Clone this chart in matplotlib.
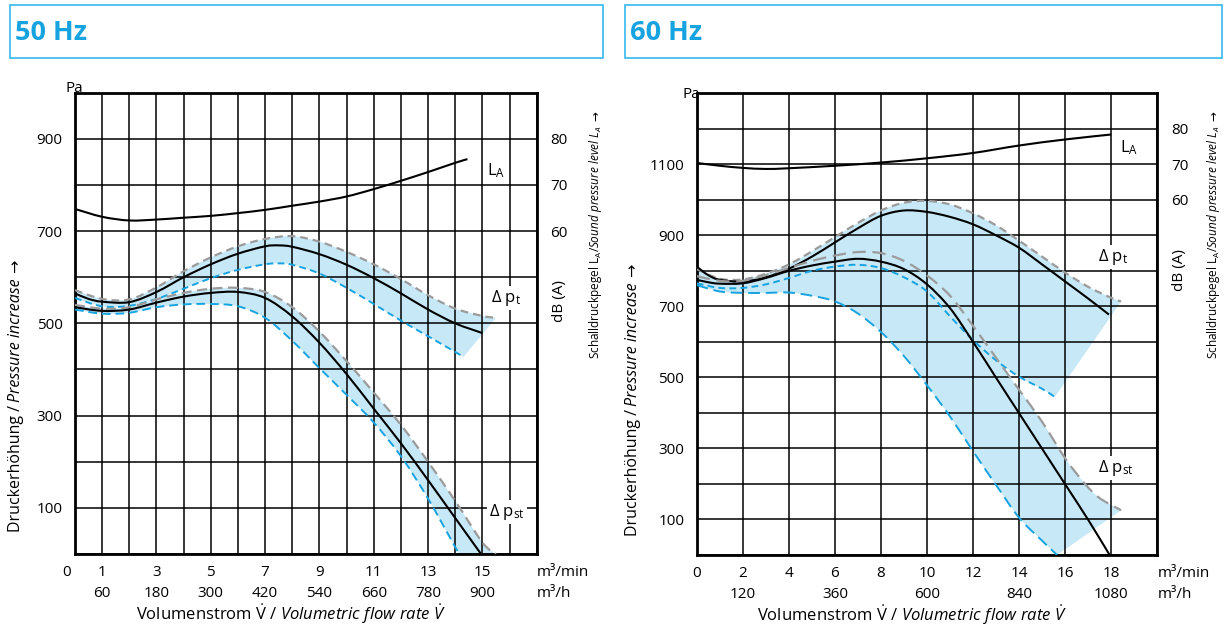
import numpy as np
import matplotlib.pyplot as plt
from matplotlib.path import Path
from matplotlib.patches import PathPatch, Rectangle

plt.rcParams['font.family'] = ['Open Sans', 'DejaVu Sans']
plt.rcParams['mathtext.fontset'] = 'custom'
plt.rcParams['mathtext.rm'] = 'Open Sans'
plt.rcParams['mathtext.it'] = 'Open Sans:italic'
plt.rcParams['mathtext.bf'] = 'Open Sans:bold'

# ---------------- 50 Hz ----------------
x50_la = [0, 1, 2, 3, 4, 5, 6, 7, 8, 9, 10, 11, 12, 13, 14, 14.45]
la50 = [64.8, 63.1, 62.3, 62.5, 62.9, 63.3, 63.9, 64.6, 65.5, 66.4, 67.5, 69.1, 70.9, 72.8, 74.8, 75.6]

x50_pt = [0, 0.5, 1, 2, 3, 4, 5, 6, 7, 7.5, 8, 9, 10, 11, 12, 13, 14, 15]
pt50 = [565, 553, 547, 546, 568, 600, 628, 651, 667, 669, 666, 650, 627, 598, 565, 530, 500, 479]
x50_pt_hi = [0, 1, 2, 3, 4, 5, 6, 7, 8, 9, 10, 11, 12, 13, 14, 15, 15.5]
pt50_hi = [572, 553, 552, 578, 613, 643, 667, 683, 689, 677, 655, 628, 596, 561, 532, 516, 512]
x50_pt_lo = [0, 1, 2, 3, 4, 5, 6, 7, 7.5, 8, 9, 10, 11, 12, 13, 14, 14.3]
pt50_lo = [555, 537, 538, 553, 575, 598, 616, 628, 630, 627, 608, 577, 542, 506, 472, 438, 427]

x50_pst = [0, 1, 2, 3, 4, 5, 6, 7, 8, 9, 10, 11, 12, 13, 14, 14.95]
pst50 = [535, 527, 530, 545, 558, 566, 568, 555, 515, 458, 390, 315, 240, 160, 78, 0]
x50_pst_hi = [0, 1, 2, 3, 4, 5, 6, 7, 8, 9, 10, 11, 12, 13, 14, 15, 15.5]
pst50_hi = [540, 532, 535, 552, 566, 575, 577, 568, 535, 482, 418, 350, 280, 200, 115, 25, 0]
x50_pst_lo = [0, 1, 2, 3, 4, 5, 6, 7, 8, 9, 10, 11, 12, 13, 14, 14.15]
pst50_lo = [530, 521, 523, 535, 541, 542, 537, 512, 462, 403, 345, 285, 212, 120, 15, 0]

# ---------------- 60 Hz ----------------
x60_la = [0, 1, 2, 3, 4, 6, 8, 10, 12, 14, 16, 18]
la60 = [70.4, 69.6, 69.0, 68.7, 68.9, 69.6, 70.5, 71.7, 73.2, 75.3, 77.0, 78.4]

x60_pt = [0, 0.5, 1, 2, 3, 4, 5, 6, 7, 8, 9, 10, 11, 12, 13, 14, 15, 16, 17, 17.9]
pt60 = [812, 788, 775, 770, 782, 806, 840, 880, 920, 955, 970, 966, 952, 931, 900, 865, 818, 770, 722, 677]
x60_pt_hi = [0, 1, 2, 3, 4, 5, 6, 7, 8, 9, 10, 11, 12, 13, 14, 15, 16, 17, 18, 18.43]
pt60_hi = [805, 778, 776, 792, 818, 855, 895, 935, 970, 992, 997, 987, 962, 928, 885, 840, 795, 755, 724, 714]
x60_pt_lo = [0, 1, 2, 3, 4, 5, 6, 7, 8, 9, 10, 11, 12, 13, 14, 15, 15.55]
pt60_lo = [765, 752, 752, 762, 780, 800, 812, 817, 808, 782, 742, 672, 605, 548, 502, 468, 445]

x60_pst = [0, 0.5, 1, 2, 3, 4, 5, 6, 7, 8, 9, 10, 11, 12, 13, 14, 15, 16, 17, 17.93]
pst60 = [775, 768, 764, 765, 780, 800, 815, 826, 834, 826, 805, 762, 695, 600, 499, 399, 299, 199, 99, 0]
x60_pst_hi = [0, 1, 2, 3, 4, 5, 6, 7, 8, 9, 10, 11, 12, 13, 14, 15, 16, 16.85, 17.5, 18.43]
pst60_hi = [785, 772, 772, 788, 808, 828, 843, 853, 850, 828, 787, 730, 645, 555, 465, 375, 272, 201, 160, 126]
x60_pst_lo = [0, 1, 2, 3, 4, 5, 6, 7, 8, 9, 10, 11, 12, 13, 14, 15, 15.65]
pst60_lo = [760, 742, 738, 738, 739, 730, 714, 680, 628, 560, 478, 390, 292, 197, 105, 40, 0]

min50_ticks = [0, 1, 3, 5, 7, 9, 11, 13, 15]
h50_ticks = [1, 3, 5, 7, 9, 11, 13, 15]
h50_labels = ['60', '180', '300', '420', '540', '660', '780', '900']
min60_ticks = [0, 2, 4, 6, 8, 10, 12, 14, 16, 18]
h60_ticks = [2, 6, 10, 14, 18]
h60_labels = ['120', '360', '600', '840', '1080']

W, H = 1229, 628
BLUE = '#17a3e0'
GREY = '#9b9b9b'
BAND = '#c6e8f7'


def bezier(xs, ys):
    # Catmull-Rom through the points, written as cubic Bezier segments
    p = np.column_stack([xs, ys]).astype(float)
    verts = [p[0]]
    codes = [Path.MOVETO]
    for i in range(len(p) - 1):
        p0 = p[i - 1] if i > 0 else p[i]
        p3 = p[i + 2] if i + 2 < len(p) else p[i + 1]
        verts += [p[i] + (p[i + 1] - p0) / 6, p[i + 1] - (p3 - p[i]) / 6, p[i + 1]]
        codes += [Path.CURVE4] * 3
    return verts, codes


def curve(ax, xs, ys, **kw):
    v, c = bezier(xs, ys)
    ax.add_patch(PathPatch(Path(v, c), fill=False, zorder=3, capstyle='butt', **kw))


def band(ax, xh, yh, xl, yl):
    vh, ch = bezier(xh, yh)
    vl, cl = bezier(xl[::-1], yl[::-1])
    cl[0] = Path.LINETO
    verts = vh + vl + [vh[0]]
    codes = ch + cl + [Path.CLOSEPOLY]
    ax.add_patch(PathPatch(Path(verts, codes), facecolor=BAND, edgecolor='none', zorder=1))


fig = plt.figure(figsize=(W / 100, H / 100), dpi=100)


def panel(rect, title, box, xmax, xstep, ymax, ylab_max, db_off, d):
    ax = fig.add_axes(rect)
    ax.set_xlim(0, xmax)
    ax.set_ylim(0, ymax)
    ax.set_xticks(np.arange(0, xmax + 0.01, xstep))
    yt = np.arange(0, ymax + 1, 100)
    ax.set_yticks(yt)
    ax.set_yticklabels([str(v) if v % 200 == 100 and v <= ylab_max else '' for v in yt])
    ax.tick_params(length=0, labelbottom=False, labelsize=11, pad=9)
    ax.grid(True, color='black', lw=1.1)
    for s in ax.spines.values():
        s.set_linewidth(2.0)

    band(ax, d['pt_hi'][0], d['pt_hi'][1], d['pt_lo'][0], d['pt_lo'][1])
    band(ax, d['pst_hi'][0], d['pst_hi'][1], d['pst_lo'][0], d['pst_lo'][1])
    for key, dash in [('pt', (3.5, 2.2)), ('pst', d['long'])]:
        curve(ax, *d[key + '_hi'], edgecolor=GREY, lw=1.6, linestyle=(0, dash))
        curve(ax, *d[key + '_lo'], edgecolor=BLUE, lw=1.4, linestyle=(0, dash))
        curve(ax, *d[key], edgecolor='black', lw=1.5)

    # sound pressure level on the right-hand dB scale
    ax2 = ax.twinx()
    ax2.set_ylim(-db_off / 10, (ymax - db_off) / 10)
    ax2.set_yticks([60, 70, 80])
    ax2.tick_params(length=0, labelsize=11, pad=10)
    for s in ax2.spines.values():
        s.set_visible(False)
    curve(ax2, *d['la'], edgecolor='black', lw=1.5)

    lab = dict(fontsize=12, ha='left', va='center', zorder=5,
               bbox=dict(facecolor='white', edgecolor='none', pad=1.5))
    for txt, (x, y) in zip(['L$_\\mathrm{A}$', 'Δ p$_\\mathrm{t}$', 'Δ p$_\\mathrm{st}$'], d['labels']):
        ax.text(x, y, txt, **lab)

    tr = ax.get_xaxis_transform()
    for x in d['min_ticks']:
        ax.text(x - (0.3 if x == 0 and xstep == 1 else 0), -0.041, str(x), transform=tr,
                ha='center', va='center', fontsize=11)
    for x, t in zip(d['h_ticks'], d['h_labels']):
        ax.text(x, -0.085, t, transform=tr, ha='center', va='center', fontsize=11)
    ax.text(1.0, -0.041, 'm³/min', transform=ax.transAxes, ha='left', va='center', fontsize=11)
    ax.text(1.0, -0.085, 'm³/h', transform=ax.transAxes, ha='left', va='center', fontsize=11)
    ax.text(0.468, -0.13,
            r'Volumenstrom $\dot{\mathrm{V}}$ / $\mathit{Volumetric\ flow\ rate}$ $\dot{\mathit{V}}$',
            transform=ax.transAxes, ha='center', va='center', fontsize=12)

    # header box
    x0, y0, x1, y1 = box
    fig.add_artist(Rectangle((x0 / W, 1 - y1 / H), (x1 - x0) / W, (y1 - y0) / H,
                             transform=fig.transFigure, fill=False,
                             edgecolor='#45bdf0', lw=1.3))
    fig.text((x0 + 5) / W, 1 - 33 / H, title, fontsize=19.5, fontweight='bold',
             color=BLUE, ha='left', va='center')
    return ax


def vertical_label(x, yc, pieces, size):
    # pieces stacked bottom to top along one baseline; (text, gap before, extra kw)
    r = fig.canvas.get_renderer()
    texts, lens = [], []
    for s, gap, kw in pieces:
        t = fig.text(0, 0, s, rotation=90, rotation_mode='anchor', ha='left',
                     va='baseline', fontsize=size, **kw)
        texts.append((t, gap))
        lens.append(t.get_window_extent(r).height + gap)
    y = (H - yc) - sum(lens) / 2
    for (t, gap), n in zip(texts, lens):
        y += gap
        t.set_position((x / W, y / H))
        y += n - gap


d50 = dict(la=(x50_la, la50), pt=(x50_pt, pt50), pt_hi=(x50_pt_hi, pt50_hi),
           pt_lo=(x50_pt_lo, pt50_lo), pst=(x50_pst, pst50),
           pst_hi=(x50_pst_hi, pst50_hi), pst_lo=(x50_pst_lo, pst50_lo),
           long=(4.5, 2.5),
           labels=[(15.18, 831), (15.33, 556), (15.26, 91)],
           min_ticks=min50_ticks, h_ticks=h50_ticks, h_labels=h50_labels)
d60 = dict(la=(x60_la, la60), pt=(x60_pt, pt60), pt_hi=(x60_pt_hi, pt60_hi),
           pt_lo=(x60_pt_lo, pt60_lo), pst=(x60_pst, pst60),
           pst_hi=(x60_pst_hi, pst60_hi), pst_lo=(x60_pst_lo, pst60_lo),
           long=(6, 3),
           labels=[(18.38, 1148), (17.42, 840), (17.42, 244)],
           min_ticks=min60_ticks, h_ticks=h60_ticks, h_labels=h60_labels)

ax50 = panel([75 / W, 1 - 554 / H, 461.7 / W, 461.3 / H], '50 Hz', (10, 5, 603, 58),
             17, 1, 1000, 900, 100, d50)
ax60 = panel([696.7 / W, 1 - 555 / H, 460.6 / W, 461.7 / H], '60 Hz', (625, 5, 1222, 58),
             20, 2, 1300, 1100, 400, d60)

# axis captions
fig.text(74 / W, 1 - 89 / H, 'Pa', fontsize=11, ha='center', va='center')
fig.text(691 / W, 1 - 95 / H, 'Pa', fontsize=11, ha='center', va='center')

arrow = dict(family='DejaVu Sans')
ylab = [('Druckerhöhung /', 0, {}), ('Pressure increase', 4, dict(style='italic')),
        ('→', 5, arrow)]
vertical_label(20, 396, ylab, 11.5)
vertical_label(637, 400, ylab, 11.5)
slab = [('Schalldruckpegel L$_\\mathrm{A}$/', 0, {}),
        ('$\\mathit{Sound\\ pressure\\ level\\ L_A}$', -2, {}), ('→', 4, arrow)]
vertical_label(599, 235, slab, 8.5)
vertical_label(1217, 235, slab, 8.5)
fig.text(560 / W, 1 - 301 / H, 'dB (A)', rotation=90, fontsize=11, ha='center', va='center')
fig.text(1180 / W, 1 - 270 / H, 'dB (A)', rotation=90, fontsize=11, ha='center', va='center')

fig.savefig('out.png', dpi=100)
